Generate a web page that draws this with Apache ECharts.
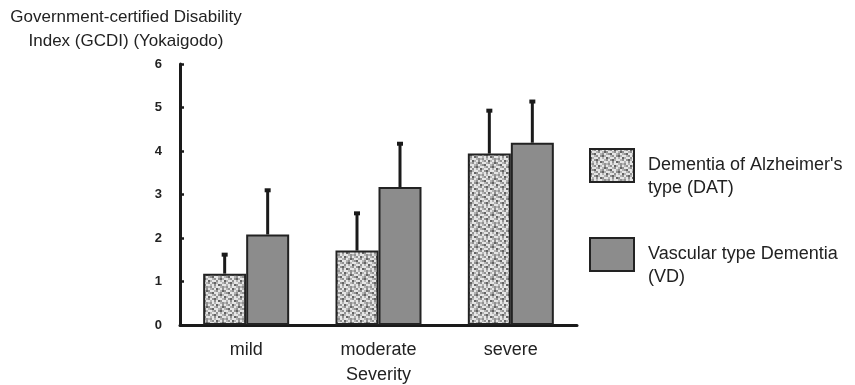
<!DOCTYPE html>
<html>
<head>
<meta charset="utf-8">
<script src="https://cdn.jsdelivr.net/npm/echarts@6/dist/echarts.min.js"></script>
<style>
    html, body { margin: 0; padding: 0; background: #fff; }
    #main { width: 855px; height: 385px; }
</style>
</head>
<body>
<div id="main"></div>
<script>
var categories = ['mild', 'moderate', 'severe'];
var yTicks = [0, 1, 2, 3, 4, 5, 6];
var datName = "Dementia of Alzheimer's\ntype (DAT)";
var vdName = 'Vascular type Dementia\n(VD)';
var datMean = [1.18, 1.71, 3.94];
var datErrTop = [1.64, 2.59, 4.95];
var vdMean = [2.08, 3.17, 4.19];
var vdErrTop = [3.12, 4.19, 5.16];

var barW = 43;
var font = 'Liberation Sans, Arial, sans-serif';

// speckled fill for the DAT bars (fixed tile, 2px grain)
function speckle() {
    var rows = [
        'wlgwdlwg',
        'gwwlgwld',
        'lgdwwlgw',
        'wwlgwgdl',
        'dlwwgwlw',
        'gwgdlwwl',
        'wlwgwdgw',
        'lgwlwwlg'
    ];
    var shades = { w: '#e6e6e6', l: '#b4b4b4', g: '#929292', d: '#646464' };
    var c = document.createElement('canvas');
    c.width = 16;
    c.height = 16;
    var ctx = c.getContext('2d');
    for (var y = 0; y < 8; y++) {
        for (var x = 0; x < 8; x++) {
            ctx.fillStyle = shades[rows[y][x]];
            ctx.fillRect(x * 2, y * 2, 2, 2);
        }
    }
    return { image: c, repeat: 'repeat' };
}

function errorSeries(means, tops, offset) {
    var data = [];
    for (var i = 0; i < categories.length; i++) {
        data.push([i, means[i], tops[i]]);
    }
    return {
        type: 'custom',
        silent: true,
        z: 5,
        data: data,
        renderItem: function (params, api) {
            var base = api.coord([api.value(0), api.value(1)]);
            var top = api.coord([api.value(0), api.value(2)]);
            var x = base[0] + offset;
            return {
                type: 'group',
                children: [{
                    type: 'line',
                    shape: { x1: x, y1: base[1], x2: x, y2: top[1] },
                    style: { stroke: '#1a1a1a', lineWidth: 3 }
                }, {
                    type: 'rect',
                    shape: { x: x - 3, y: top[1] - 1, width: 6, height: 4 },
                    style: { fill: '#1a1a1a' }
                }]
            };
        }
    };
}

var chart = echarts.init(document.getElementById('main'));
var option = {
    animation: false,
    backgroundColor: '#fff',
    graphic: [{
        type: 'text',
        x: 126,
        y: 5,
        style: {
            text: 'Government-certified Disability\nIndex (GCDI) (Yokaigodo)',
            align: 'center',
            verticalAlign: 'top',
            font: '17px ' + font,
            lineHeight: 24,
            fill: '#222'
        }
    }],
    legend: {
        orient: 'vertical',
        left: 584,
        top: 126,
        itemWidth: 44,
        itemHeight: 33,
        itemGap: 20,
        icon: 'rect',
        data: [datName, vdName],
        formatter: function (name) {
            return '\n' + name;
        },
        textStyle: {
            fontFamily: font,
            fontSize: 18,
            color: '#222',
            lineHeight: 23,
            padding: [0, 0, 0, 9]
        }
    },
    grid: {
        left: 180,
        right: 278,
        top: 64,
        bottom: 60,
        outerBoundsMode: 'none'
    },
    xAxis: {
        type: 'category',
        data: categories,
        name: 'Severity',
        nameLocation: 'middle',
        nameGap: 41,
        nameTextStyle: { fontFamily: font, fontSize: 18, color: '#222' },
        axisLine: { lineStyle: { color: '#1a1a1a', width: 3 } },
        axisTick: { inside: true, length: 5, lineStyle: { color: '#1a1a1a', width: 2.5 } },
        axisLabel: { fontFamily: font, fontSize: 18, color: '#222', margin: 16 }
    },
    yAxis: {
        type: 'value',
        min: yTicks[0],
        max: yTicks[yTicks.length - 1],
        interval: 1,
        splitLine: { show: false },
        axisLine: { show: true, lineStyle: { color: '#1a1a1a', width: 3 } },
        axisTick: { show: true, inside: true, length: 4, lineStyle: { color: '#1a1a1a', width: 2.5 } },
        axisLabel: {
            fontFamily: font, fontSize: 13, fontWeight: 'bold', color: '#222',
            margin: 18, padding: [6, 0, 0, 0]
        }
    },
    series: [{
        name: datName,
        type: 'bar',
        data: datMean,
        barWidth: barW,
        barGap: '0%',
        itemStyle: { color: speckle(), borderColor: '#222', borderWidth: 2 }
    }, {
        name: vdName,
        type: 'bar',
        data: vdMean,
        barWidth: barW,
        barGap: '0%',
        itemStyle: { color: '#8c8c8c', borderColor: '#222', borderWidth: 2 }
    },
        errorSeries(datMean, datErrTop, -barW / 2),
        errorSeries(vdMean, vdErrTop, barW / 2)
    ]
};
chart.setOption(option);
</script>
</body>
</html>
